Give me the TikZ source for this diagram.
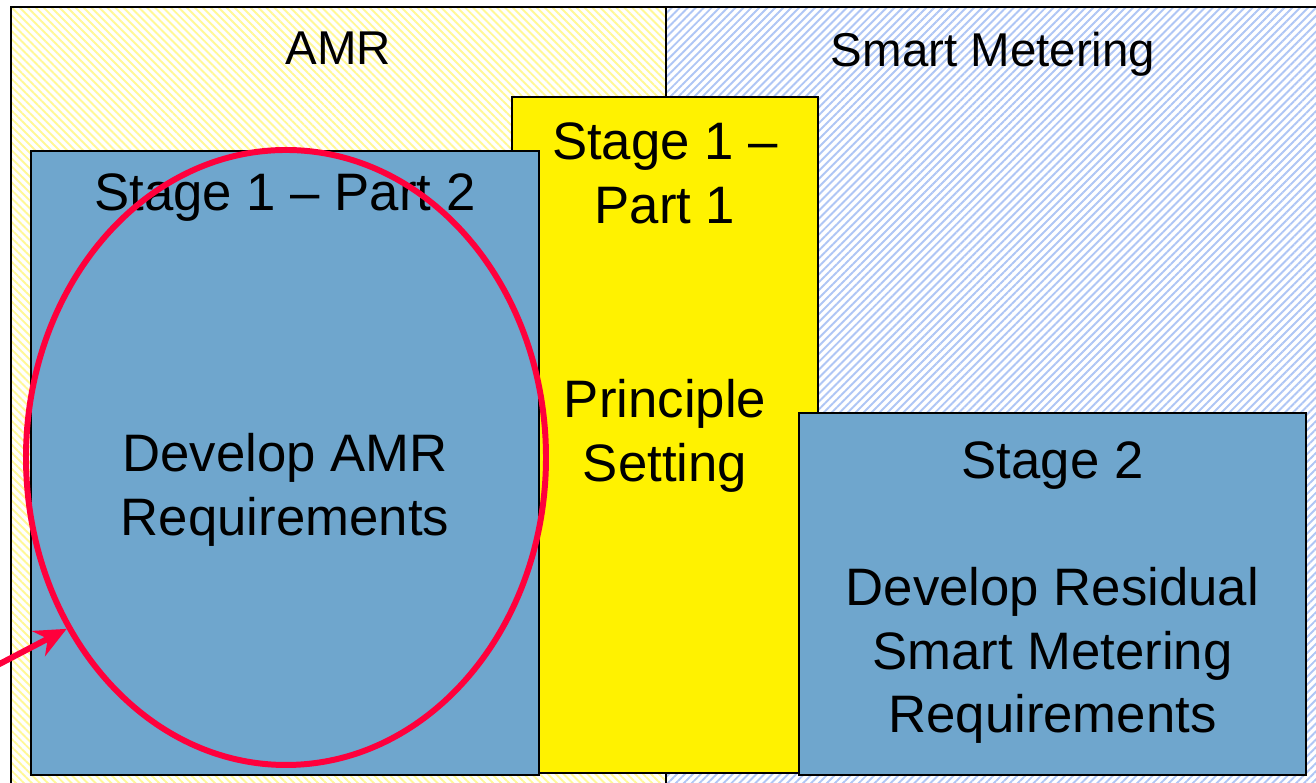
\documentclass[tikz,border=0pt]{standalone}
\usepackage{fontspec}
\setmainfont{Liberation Sans}
\usetikzlibrary{positioning}
\usetikzlibrary{shapes}
\usetikzlibrary{patterns.meta}
\usetikzlibrary{arrows.meta}

\definecolor{kastenblau}{RGB}{111,166,205}
\definecolor{streifengelb}{RGB}{255,248,150}
\definecolor{streifenblau}{RGB}{175,198,245}
\definecolor{kreisrot}{RGB}{255,0,60}

\begin{document}
\begin{tikzpicture}[node distance=1cm,
zone/.style={
  rectangle,
  draw=black,
  line width=0.6pt,
  anchor=north west,
  inner sep=0pt,
  outer sep=0pt,
  preaction={fill=white}
},
kasten/.style={
  rectangle,
  draw=black,
  line width=0.8pt,
  anchor=north west,
  inner sep=0pt,
  outer sep=0pt
},
kopf/.style={
  inner sep=0pt,
  font=\fontsize{13.5}{16}\selectfont
},
schrift/.style={
  inner sep=0pt,
  align=center,
  font=\fontsize{15}{18.2}\selectfont
},
pile/.style={
  line width=1.7pt,
  draw=kreisrot,
  -{Stealth[length=9pt,width=8pt]}
}]
\useasboundingbox (0,0) rectangle (13.16,7.83);

% Bereiche
\node[zone, minimum width=6.55cm, minimum height=7.9cm,
  pattern={Lines[angle=-45,distance=1.6pt,line width=0.55pt]},
  pattern color=streifengelb] (AMR) at (0.11,7.76) {};
\node[zone, minimum width=6.54cm, minimum height=7.9cm,
  pattern={Lines[angle=45,distance=1.6pt,line width=0.55pt]},
  pattern color=streifenblau] (SM) at (6.66,7.76) {};

\node[kopf] (AMRt) [below=0.24cm of AMR.north] {AMR};
\node[kopf] (SMt) [below=0.24cm of SM.north] {Smart Metering};

% Stufen
\node[kasten, fill=yellow, minimum width=3.06cm, minimum height=6.76cm] (SP1) at (5.12,6.86) {};
\node[kasten, fill=kastenblau, minimum width=5.08cm, minimum height=6.24cm] (SP2) at (0.31,6.32) {};
\node[kasten, fill=kastenblau, minimum width=5.07cm, minimum height=3.62cm] (S2) at (7.99,3.70) {};

\node[schrift] (SP1t) [below=0.25cm of SP1.north] {Stage 1 –\\Part 1};
\node[schrift] (SP1b) [below=1.54cm of SP1t] {Principle\\Setting};
\node[schrift] (SP2t) [below=0.22cm of SP2.north] {Stage 1 – Part 2};
\node[schrift] (SP2b) [below=2.10cm of SP2t] {Develop AMR\\Requirements};
\node[schrift] (S2t) [below=0.28cm of S2.north] {Stage 2};
\node[schrift] (S2b) [below=0.76cm of S2t] {Develop Residual\\Smart Metering\\Requirements};

% Markierung
\node[ellipse, draw=kreisrot, line width=1.7pt, inner sep=0pt,
  minimum width=5.2cm, minimum height=6.15cm] (RING) at (2.86,3.255) {};
\coordinate (PFEIL) at (-0.1,1.14);
\draw[pile] (PFEIL) -- (RING.218);

\end{tikzpicture}
\end{document}
